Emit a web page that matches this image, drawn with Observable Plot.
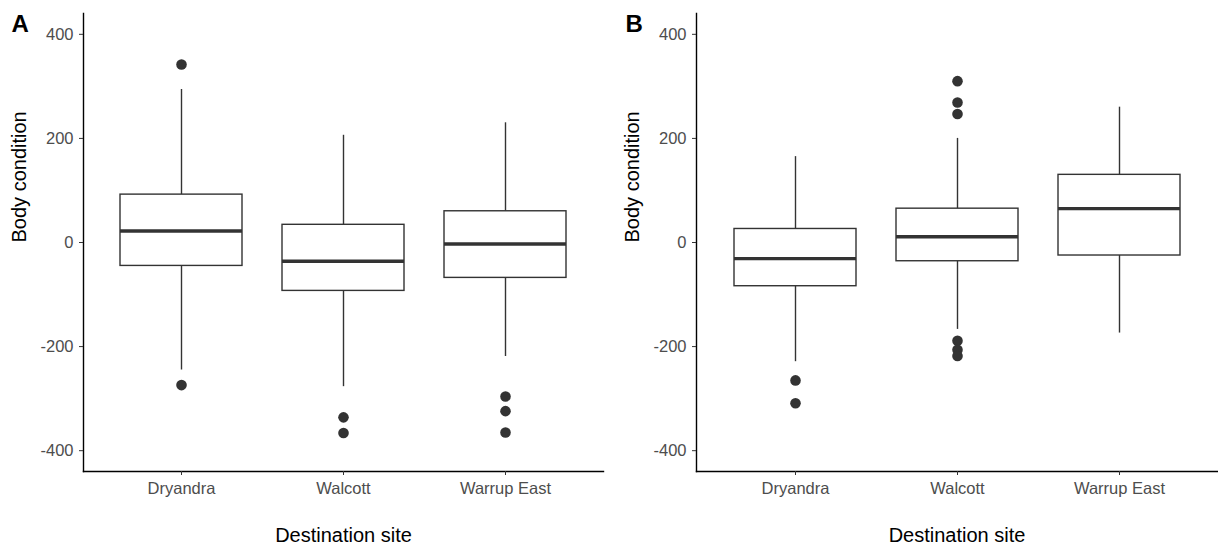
<!DOCTYPE html>
<html><head><meta charset="utf-8">
<script src="https://cdn.jsdelivr.net/npm/d3@7"></script>
<script src="https://cdn.jsdelivr.net/npm/@observablehq/plot@0.6"></script>
<style>
body{margin:0;background:#fff;}
#wrap{display:flex;width:1218px;height:548px;}
#wrap svg{flex:none;}
</style></head><body><div id="wrap"></div>
<script>
const sites = ["Dryandra", "Walcott", "Warrup East"];
const yTicks = [-400, -200, 0, 200, 400];
const yLimits = [-440, 440];
const xTitle = "Destination site";
const yTitle = "Body condition";

// Panel A
const aLow  = [-245, -277, -219];
const aQ1   = [-45, -93, -68];
const aMed  = [22, -36, -3];
const aQ3   = [92, 34, 60];
const aHigh = [294, 206, 230];
const aOutSite = ["Dryandra", "Dryandra", "Walcott", "Walcott", "Warrup East", "Warrup East", "Warrup East"];
const aOutVal  = [342, -274, -336, -366, -296, -324, -365];

// Panel B
const bLow  = [-229, -167, -174];
const bQ1   = [-84, -36, -25];
const bMed  = [-31, 11, 65];
const bQ3   = [26, 65, 130];
const bHigh = [165, 200, 260];
const bOutSite = ["Dryandra", "Dryandra", "Walcott", "Walcott", "Walcott", "Walcott", "Walcott", "Walcott"];
const bOutVal  = [-265, -309, 310, 269, 247, -189, -206, -218];

const FONT = "'Liberation Sans', Arial, Helvetica, sans-serif";

function panel(label, low, q1, med, q3, high, outSite, outVal, m) {
  const stats = sites.map((s, i) => ({site: s, low: low[i], q1: q1[i], med: med[i], q3: q3[i], high: high[i]}));
  const outs = outSite.map((s, i) => ({site: s, v: outVal[i]}));
  return Plot.plot({
    width: 609,
    height: 548,
    marginLeft: m.left,
    marginRight: m.right,
    marginTop: 13,
    marginBottom: 77,
    style: {fontFamily: FONT, background: "#fff", overflow: "visible"},
    x: {type: "band", domain: sites, paddingInner: 0.25, paddingOuter: 0.225},
    y: {domain: yLimits},
    marks: [
      Plot.ruleX(stats, {x: "site", y1: "q3", y2: "high", stroke: "#333333", strokeWidth: 1.4}),
      Plot.ruleX(stats, {x: "site", y1: "low", y2: "q1", stroke: "#333333", strokeWidth: 1.4}),
      Plot.barY(stats, {x: "site", y1: "q1", y2: "q3", fill: "#ffffff", stroke: "#333333", strokeWidth: 1.4}),
      Plot.tickY(stats, {x: "site", y: "med", stroke: "#333333", strokeWidth: 3.4}),
      Plot.dot(outs, {x: "site", y: "v", r: 5.3, fill: "#333333", stroke: "none"}),
      Plot.frame({anchor: "left", stroke: "#000", strokeWidth: 1.4}),
      Plot.frame({anchor: "bottom", stroke: "#000", strokeWidth: 1.4}),
      Plot.axisY({ticks: yTicks, tickFormat: d => String(d), tickSize: 4, tickPadding: 6, fontSize: 16.5, color: "#4d4d4d", stroke: "#333333", label: null}),
      Plot.axisX({tickSize: 4, tickPadding: 7, fontSize: 16.5, color: "#4d4d4d", stroke: "#333333", label: null}),
      Plot.text([yTitle], {frameAnchor: "left", text: d => d, rotate: -90, dx: m.yTitleDx, fontSize: 20, fill: "#000", lineAnchor: "middle"}),
      Plot.text([xTitle], {frameAnchor: "bottom", text: d => d, dy: 64, fontSize: 20, fill: "#000", lineAnchor: "middle"}),
      Plot.text([label], {frameAnchor: "top-left", text: d => d, dx: m.labelDx, dy: 11, fontSize: 24, fontWeight: "bold", fill: "#000", textAnchor: "start", lineAnchor: "middle"})
    ]
  });
}

const wrap = document.getElementById("wrap");
wrap.appendChild(panel("A", aLow, aQ1, aMed, aQ3, aHigh, aOutSite, aOutVal, {left: 83, right: 6, yTitleDx: -64, labelDx: -72}));
wrap.appendChild(panel("B", bLow, bQ1, bMed, bQ3, bHigh, bOutSite, bOutVal, {left: 87, right: 1, yTitleDx: -64, labelDx: -71}));
</script></body></html>
